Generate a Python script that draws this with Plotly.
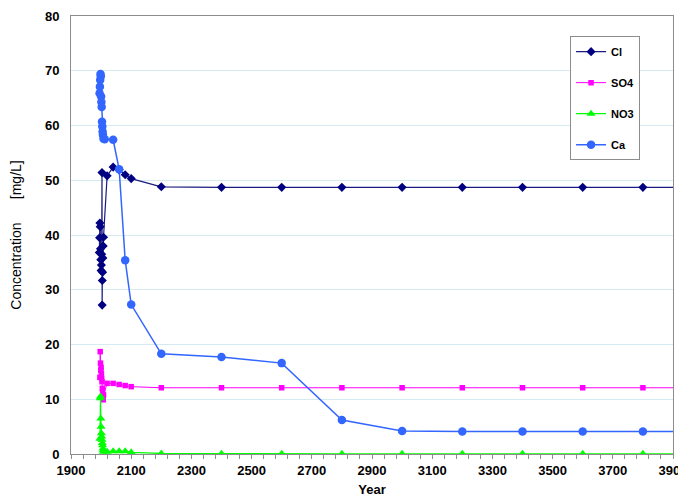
import plotly.graph_objects as go

# ---- data ----
cl_years = [1994, 1995, 1996, 1997, 1998, 1999, 2000, 2001, 2002, 2003, 2003.5, 2004, 2005, 2006, 2007, 2008,
            2020, 2040, 2060, 2080, 2100, 2200, 2400, 2600, 2800, 3000, 3200, 3400, 3600, 3800, 4000]
cl_vals = [36.8, 39.5, 42.2, 41.5, 37.5, 35.5, 33.5, 34.5, 36.5, 51.4, 27.2, 31.7, 33.2, 35.8, 38.0, 39.6,
           50.8, 52.4, 51.9, 51.0, 50.3, 48.8, 48.7, 48.7, 48.7, 48.7, 48.7, 48.7, 48.7, 48.7, 48.7]

so4_years = [1996, 1997, 1998, 1999, 2000, 2001, 2002, 2003, 2004, 2005, 2006, 2007, 2008,
             2020, 2040, 2060, 2080, 2100, 2200, 2400, 2600, 2800, 3000, 3200, 3400, 3600, 3800, 4000]
so4_vals = [14.0, 18.7, 16.6, 15.3, 15.8, 14.7, 13.8, 13.2, 12.0, 11.4, 10.5, 9.9, 10.8,
            12.9, 12.9, 12.7, 12.5, 12.3, 12.1, 12.1, 12.1, 12.1, 12.1, 12.1, 12.1, 12.1, 12.1, 12.1]

no3_years = [1996, 1997, 1998, 1999, 2000, 2001, 2002, 2003, 2004, 2005, 2006, 2007, 2008,
             2020, 2040, 2060, 2080, 2100, 2200, 2400, 2600, 2800, 3000, 3200, 3400, 3600, 3800, 4000]
no3_vals = [2.8, 10.2, 10.5, 6.5, 5.0, 3.8, 3.2, 2.6, 2.0, 1.6, 1.0, 0.7, 0.4,
            0.4, 0.5, 0.5, 0.5, 0.3, 0.1, 0.05, 0.05, 0.05, 0.05, 0.05, 0.05, 0.05, 0.05, 0.05]

ca_years = [1995, 1996, 1997, 1998, 1999, 2000, 2001, 2002, 2003, 2004, 2005, 2006, 2008, 2012,
            2040, 2060, 2080, 2100, 2200, 2400, 2600, 2800, 3000, 3200, 3400, 3600, 3800, 4000]
ca_vals = [65.9, 67.1, 68.3, 69.4, 69.0, 65.3, 64.3, 63.4, 60.7, 59.8, 58.9, 58.3, 57.6, 57.5,
           57.4, 52.0, 35.4, 27.3, 18.3, 17.7, 16.6, 6.2, 4.2, 4.1, 4.1, 4.1, 4.1, 4.1]

x_ticks = [1900, 2100, 2300, 2500, 2700, 2900, 3100, 3300, 3500, 3700, 3900]
y_ticks = [0, 10, 20, 30, 40, 50, 60, 70, 80]

FONT = "Liberation Sans, Arial, sans-serif"

fig = go.Figure()
fig.add_trace(go.Scatter(x=cl_years, y=cl_vals, name="Cl", mode="lines+markers",
                         line=dict(color="#1a1a80", width=1.2),
                         marker=dict(symbol="diamond", size=7, color="#000080"),
                         legendgroup="a"))
fig.add_trace(go.Scatter(x=so4_years, y=so4_vals, name="SO4", mode="lines+markers",
                         line=dict(color="#FF00FF", width=1.0),
                         marker=dict(symbol="square", size=5.5, color="#FF00FF"),
                         legendgroup="b"))
fig.add_trace(go.Scatter(x=no3_years, y=no3_vals, name="NO3", mode="lines+markers",
                         line=dict(color="#00FF00", width=1.2),
                         marker=dict(symbol="triangle-up", size=8, color="#00FF00"),
                         legendgroup="c"))
fig.add_trace(go.Scatter(x=ca_years, y=ca_vals, name="Ca", mode="lines+markers",
                         line=dict(color="#3366FF", width=1.5),
                         marker=dict(symbol="circle", size=8.5, color="#3366FF"),
                         legendgroup="d"))

fig.update_layout(
    width=678, height=489,
    margin=dict(l=63, r=13, t=8, b=43),
    paper_bgcolor="white", plot_bgcolor="white",
    font=dict(family=FONT, size=13, color="black"),
    showlegend=True,
    legend=dict(x=0.829, y=0.954, xanchor="left", yanchor="top",
                bgcolor="white", bordercolor="#8c8c8c", borderwidth=1,
                font=dict(family=FONT, size=11, weight="bold", color="black"),
                tracegroupgap=12, itemwidth=30),
)
fig.update_xaxes(
    range=[1900, 3900], tickvals=x_ticks, ticktext=[str(t) for t in x_ticks],
    showgrid=False, zeroline=False, automargin=False, ticklabeloverflow="allow",
    showline=True, linecolor="#8c8c8c", linewidth=1, mirror=True,
    ticks="outside", ticklen=4, tickcolor="#8c8c8c",
    minor=dict(dtick=40, tick0=1900, ticks="outside", ticklen=4, tickcolor="#8c8c8c"),
    tickfont=dict(family=FONT, size=13, weight="bold", color="black"),
    title=dict(text="Year", font=dict(family=FONT, size=13, weight="bold", color="black"), standoff=8),
)
fig.update_yaxes(
    range=[0, 80], tickvals=y_ticks, ticktext=[str(t) for t in y_ticks],
    showgrid=True, gridcolor="#d6eaf2", gridwidth=1, zeroline=False, automargin=False,
    showline=True, linecolor="#8c8c8c", linewidth=1, mirror=True,
    ticks="", ticklabelstandoff=8,
    tickfont=dict(family=FONT, size=13, weight="bold", color="black"),
    title=dict(text="Concentration\u00a0\u00a0\u00a0\u00a0\u00a0\u00a0[mg/L]",
               font=dict(family=FONT, size=14, color="black"), standoff=26),
)

fig.write_html("out.html")
